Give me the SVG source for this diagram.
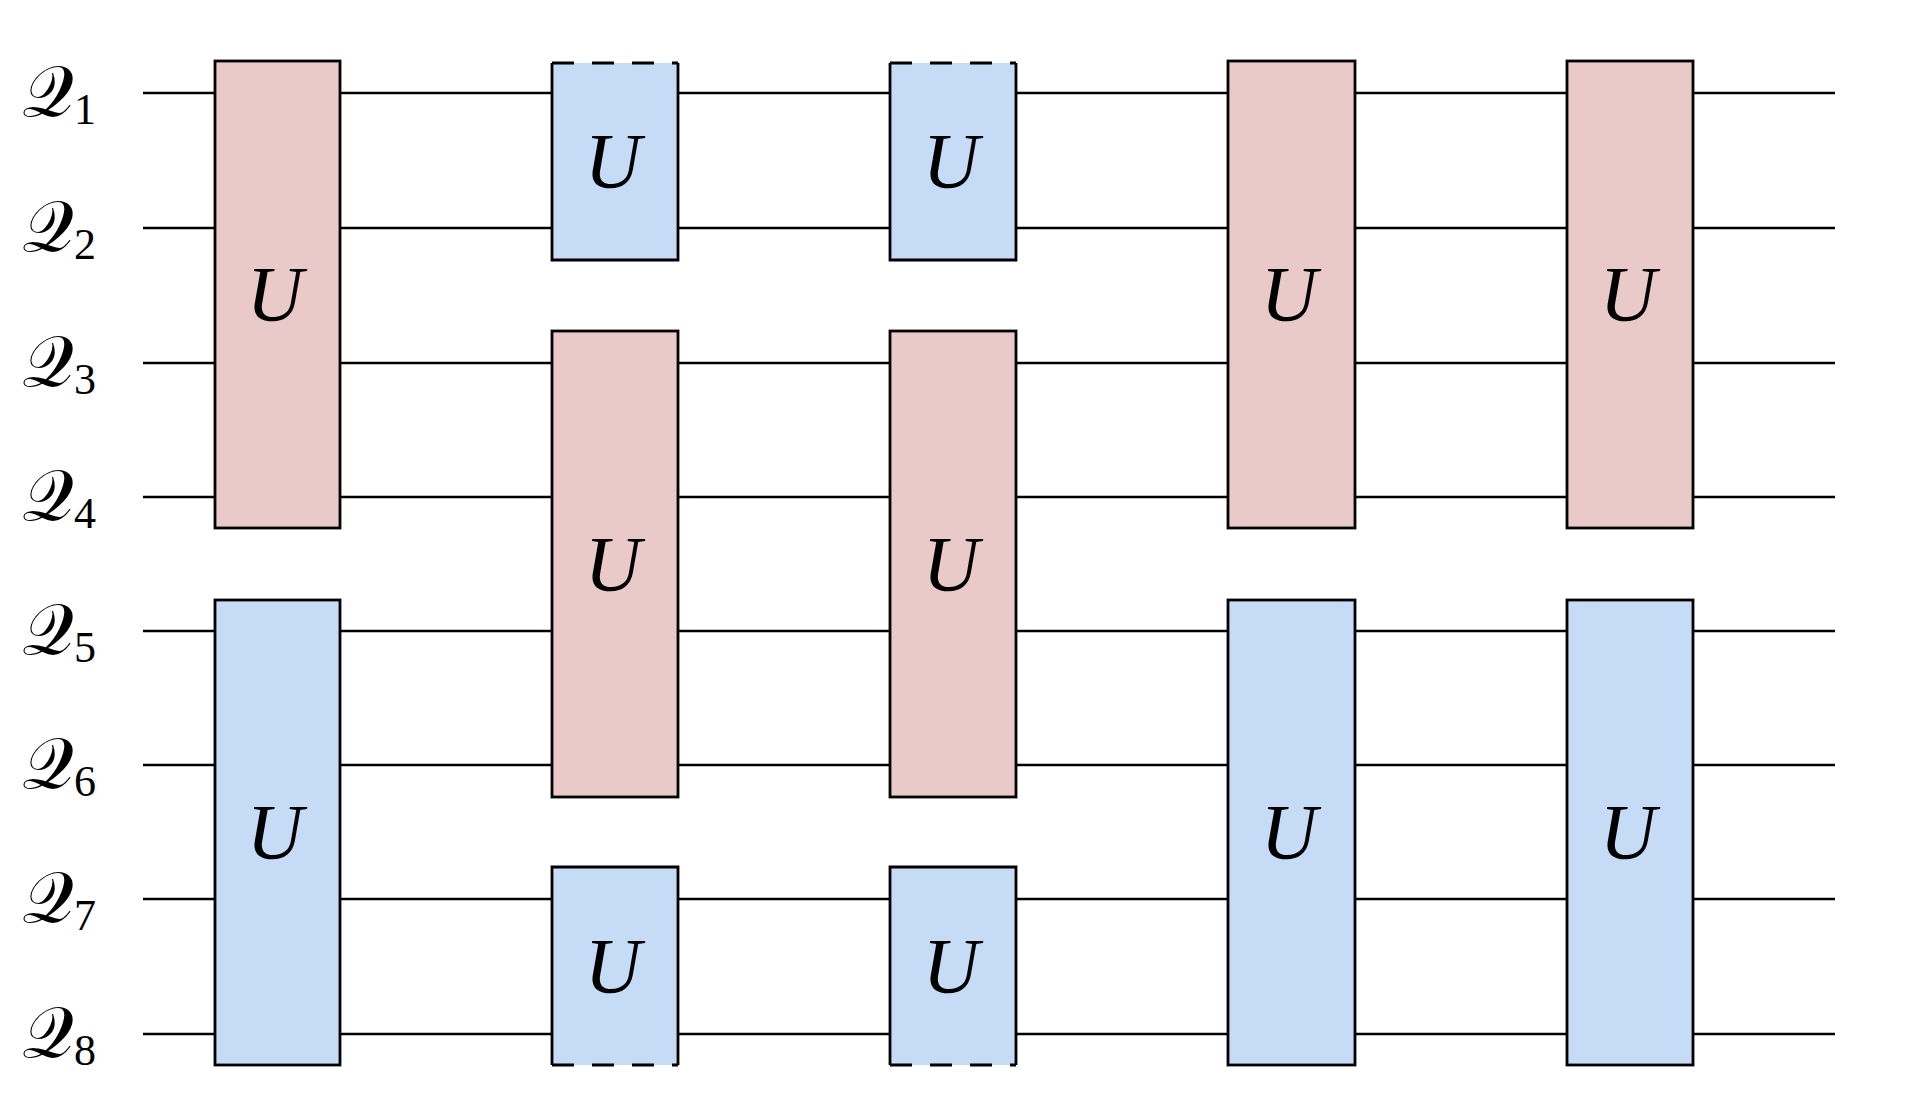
<svg xmlns="http://www.w3.org/2000/svg" width="1922" height="1120" viewBox="0 0 1922 1120">
<style>
.w{stroke:#000;stroke-width:2.5;fill:none}
.r{fill:#EAC9C9}
.b{fill:#C6DBF5}
.e{stroke:#000;stroke-width:2.8}
.p{stroke:#000;stroke-width:2.8;fill:none}
.d{stroke:#000;stroke-width:2.8;fill:none;stroke-dasharray:22 18}
.u{font-family:"Liberation Serif",serif;font-style:italic;font-size:78px;text-anchor:middle}
.q{font-family:"DejaVu Serif","Noto Sans",serif;font-size:72px}
.s{font-family:"Liberation Serif",serif;font-size:44px}
</style>
<g id="wires">
<path class="w" d="M143 93H1835M143 228H1835M143 363H1835M143 497H1835M143 631H1835M143 765H1835M143 899H1835M143 1034H1835"/>
</g>
<g id="labels">
<text class="q" x="22" y="116">𝒬<tspan class="s" dy="8">1</tspan></text>
<text class="q" x="22" y="251">𝒬<tspan class="s" dy="8">2</tspan></text>
<text class="q" x="22" y="386">𝒬<tspan class="s" dy="8">3</tspan></text>
<text class="q" x="22" y="520">𝒬<tspan class="s" dy="8">4</tspan></text>
<text class="q" x="22" y="654">𝒬<tspan class="s" dy="8">5</tspan></text>
<text class="q" x="22" y="788">𝒬<tspan class="s" dy="8">6</tspan></text>
<text class="q" x="22" y="922">𝒬<tspan class="s" dy="8">7</tspan></text>
<text class="q" x="22" y="1057">𝒬<tspan class="s" dy="8">8</tspan></text>
</g>
<g id="g1a"><rect class="r e" x="215" y="61" width="125" height="467"/><text class="u" x="275" y="320">U</text></g>
<g id="g1b"><rect class="b e" x="215" y="600" width="125" height="465"/><text class="u" x="275" y="858">U</text></g>
<g id="g2a"><rect class="b" x="552" y="63" width="126" height="197"/><path class="p" d="M552 63V260H678V63"/><path class="d" d="M552 63H678"/><text class="u" x="613" y="187">U</text></g>
<g id="g2b"><rect class="r e" x="552" y="331" width="126" height="466"/><text class="u" x="613" y="590">U</text></g>
<g id="g2c"><rect class="b" x="552" y="867" width="126" height="198"/><path class="p" d="M552 1065V867H678V1065"/><path class="d" d="M552 1065H678"/><text class="u" x="613" y="992">U</text></g>
<g id="g3a"><rect class="b" x="890" y="63" width="126" height="197"/><path class="p" d="M890 63V260H1016V63"/><path class="d" d="M890 63H1016"/><text class="u" x="951" y="187">U</text></g>
<g id="g3b"><rect class="r e" x="890" y="331" width="126" height="466"/><text class="u" x="951" y="590">U</text></g>
<g id="g3c"><rect class="b" x="890" y="867" width="126" height="198"/><path class="p" d="M890 1065V867H1016V1065"/><path class="d" d="M890 1065H1016"/><text class="u" x="951" y="992">U</text></g>
<g id="g4a"><rect class="r e" x="1228" y="61" width="127" height="467"/><text class="u" x="1289" y="320">U</text></g>
<g id="g4b"><rect class="b e" x="1228" y="600" width="127" height="465"/><text class="u" x="1289" y="858">U</text></g>
<g id="g5a"><rect class="r e" x="1567" y="61" width="126" height="467"/><text class="u" x="1628" y="320">U</text></g>
<g id="g5b"><rect class="b e" x="1567" y="600" width="126" height="465"/><text class="u" x="1628" y="858">U</text></g>
</svg>
